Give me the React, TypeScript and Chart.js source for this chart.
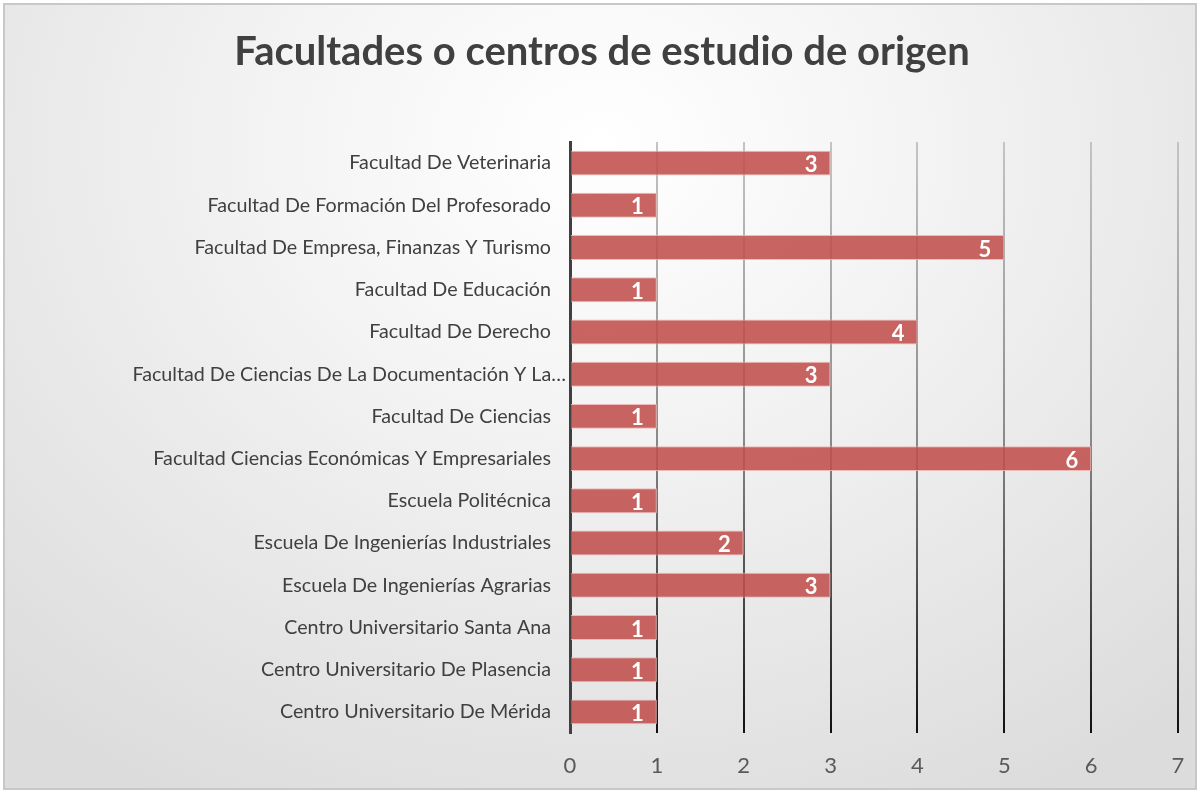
import React, { useEffect, useRef } from "react";
import { Chart, registerables } from "chart.js";

Chart.register(...registerables);

const TITLE = "Facultades o centros de estudio de origen";

const categories = [
  "Facultad De Veterinaria",
  "Facultad De Formación Del Profesorado",
  "Facultad De Empresa, Finanzas Y Turismo",
  "Facultad De Educación",
  "Facultad De Derecho",
  "Facultad De Ciencias De La Documentación Y La…",
  "Facultad De Ciencias",
  "Facultad Ciencias Económicas Y Empresariales",
  "Escuela Politécnica",
  "Escuela De Ingenierías Industriales",
  "Escuela De Ingenierías Agrarias",
  "Centro Universitario Santa Ana",
  "Centro Universitario De Plasencia",
  "Centro Universitario De Mérida",
];

const values = [3, 1, 5, 1, 4, 3, 1, 6, 1, 2, 3, 1, 1, 1];

const xMin = 0;
const xMax = 7;
const xStep = 1;

const FONT = "Lato, 'Open Sans', sans-serif";

const labelsPlugin = {
  id: "barLabels",
  afterDatasetsDraw(chart: any) {
    const ctx = chart.ctx;
    const meta = chart.getDatasetMeta(0);
    ctx.save();
    ctx.fillStyle = "#ffffff";
    ctx.font = `bold 22px ${FONT}`;
    ctx.textAlign = "right";
    ctx.textBaseline = "middle";
    meta.data.forEach((bar: any, i: number) => {
      ctx.fillText(String(values[i]), bar.x - 13, bar.y + 2);
    });
    ctx.restore();
  },
};

// category labels drawn along the y scale (truncated ones overhang, as in the original)
const catLabelsPlugin = {
  id: "catLabels",
  afterDraw(chart: any) {
    const ctx = chart.ctx;
    const y = chart.scales.y;
    ctx.save();
    ctx.fillStyle = "#404040";
    ctx.font = `19.7px ${FONT}`;
    ctx.textAlign = "right";
    ctx.textBaseline = "middle";
    categories.forEach((lab, i) => {
      const py = y.getPixelForValue(i);
      const right = lab.endsWith("…") ? y.right - 4 : y.right - 19;
      ctx.fillText(lab, right, py);
    });
    ctx.restore();
  },
};

const titlePlugin = {
  id: "customTitle",
  afterDraw(chart: any) {
    const ctx = chart.ctx;
    ctx.save();
    ctx.fillStyle = "#404040";
    ctx.font = `bold 40px ${FONT}`;
    ctx.textAlign = "center";
    ctx.textBaseline = "middle";
    ctx.fillText(TITLE, 602, 52);
    ctx.restore();
  },
};

export default function App() {
  const ref = useRef<HTMLCanvasElement | null>(null);

  useEffect(() => {
    if (!ref.current) return;
    let gridGrad: any = null;
    const chart = new Chart(ref.current, {
      type: "bar",
      data: {
        labels: categories,
        datasets: [
          {
            data: values,
            backgroundColor: "rgba(192, 80, 77, 0.88)",
            borderColor: "rgba(235, 180, 178, 0.9)",
            borderWidth: 1,
            barPercentage: 0.59,
            categoryPercentage: 1,
          },
        ],
      },
      options: {
        indexAxis: "y",
        responsive: false,
        animation: false,
        layout: { padding: { top: 142, right: 20, left: 0, bottom: 0 } },
        plugins: {
          legend: { display: false },
          title: { display: false },
          tooltip: { enabled: false },
        },
        scales: {
          x: {
            min: xMin,
            max: xMax,
            ticks: {
              stepSize: xStep,
              color: "#595959",
              font: { family: FONT, size: 22 },
              padding: 0,
            },
            grid: {
              drawTicks: true,
              tickLength: 20,
              tickColor: "rgba(0,0,0,0)",
              lineWidth: 2,
              color: (c: any) => {
                const ch = c.chart;
                const area = ch.chartArea;
                if (!area) return "#888";
                if (!gridGrad) {
                  gridGrad = ch.ctx.createLinearGradient(0, area.top, 0, area.bottom);
                  gridGrad.addColorStop(0, "#c4c4c4");
                  gridGrad.addColorStop(0.5, "#8a8a8a");
                  gridGrad.addColorStop(1, "#111111");
                }
                return c.tick && c.tick.value === 0 ? "rgba(0,0,0,0)" : gridGrad;
              },
            },
            border: { display: false },
            afterFit: (s: any) => {
              s.height = 57;
            },
          },
          y: {
            ticks: { display: false },
            grid: { display: false, drawTicks: false },
            border: { display: true, color: "#404040", width: 3 },
            afterFit: (s: any) => {
              s.width = 570;
            },
          },
        },
      },
      plugins: [labelsPlugin, catLabelsPlugin, titlePlugin],
    });
    return () => chart.destroy();
  }, []);

  return (
    <div
      style={{
        position: "fixed",
        left: 0,
        top: 0,
        width: 1198,
        height: 790,
        background: "#ffffff",
      }}
    >
      <div
        style={{
          position: "absolute",
          left: 3,
          top: 3,
          width: 1190,
          height: 783,
          border: "2px solid #c8c8c8",
          background:
            "radial-gradient(ellipse 75% 95% at 50% 18%, #ffffff 0%, #f4f4f4 35%, #dcdcdc 100%)",
        }}
      />
      <canvas
        ref={ref}
        width={1198}
        height={790}
        style={{ position: "absolute", left: 0, top: 0 }}
      />
    </div>
  );
}
